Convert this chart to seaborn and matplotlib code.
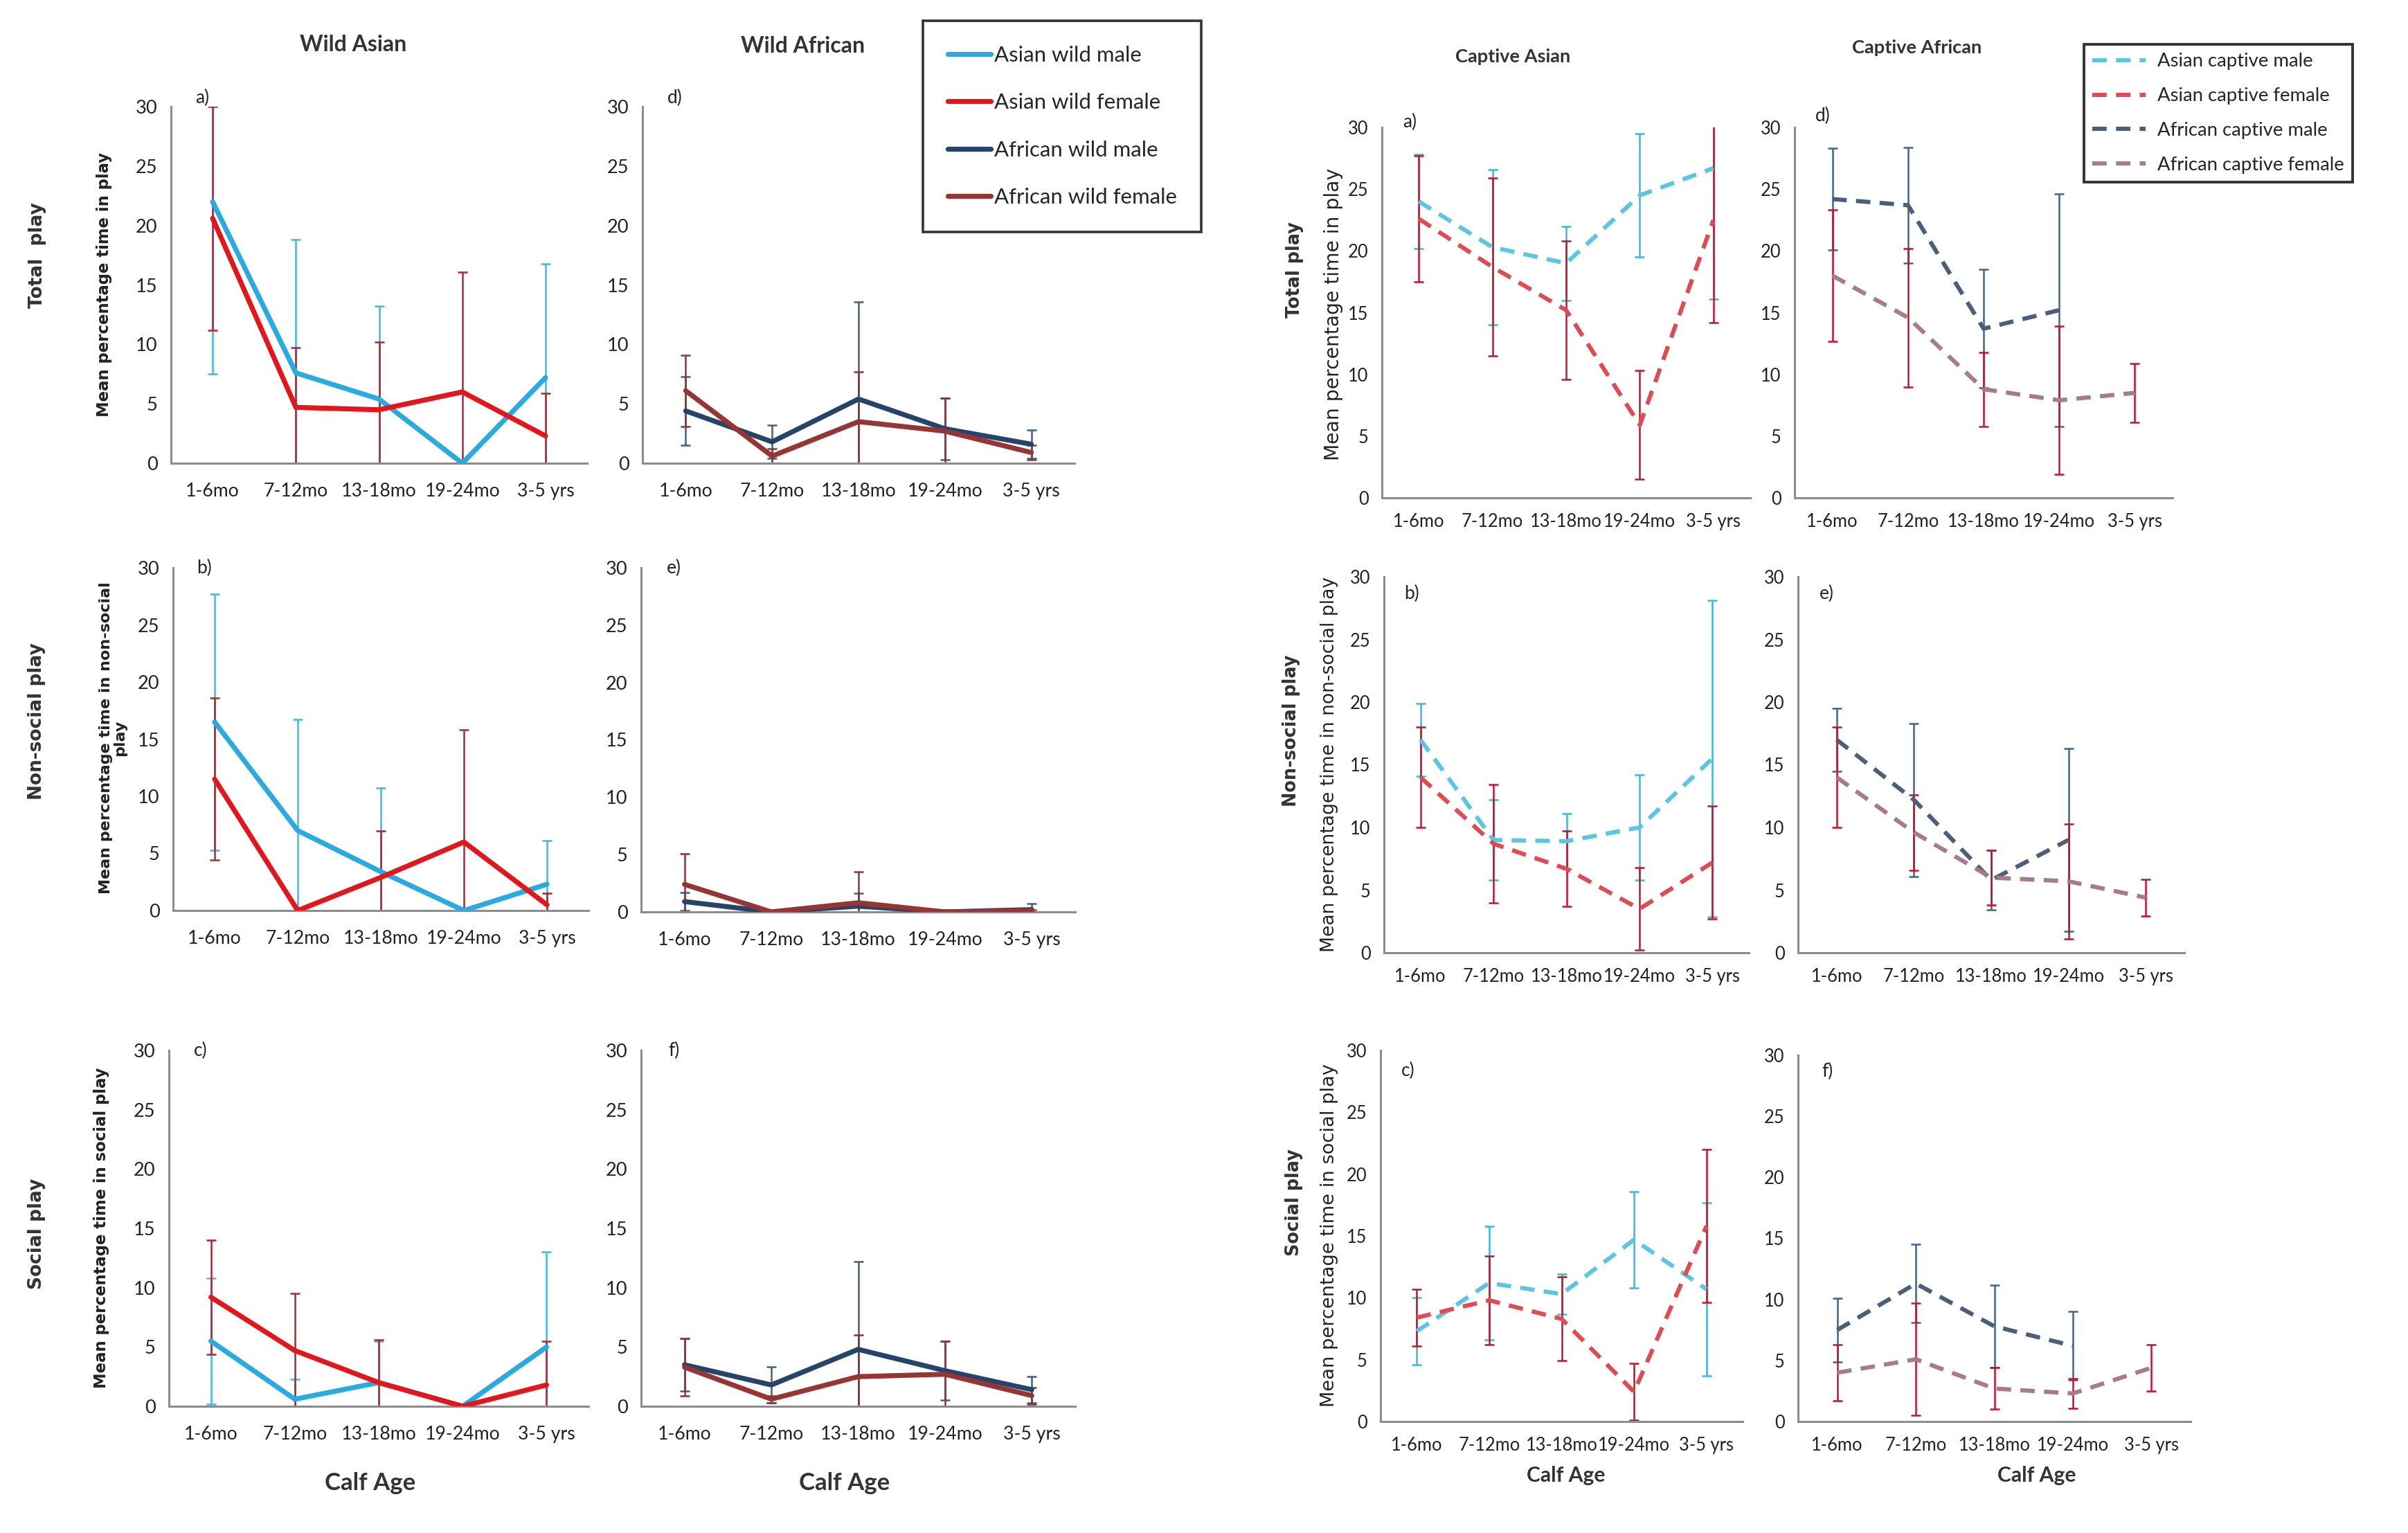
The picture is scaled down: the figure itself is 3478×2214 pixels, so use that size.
import numpy as np
import pandas as pd
import matplotlib
matplotlib.use("Agg")
import matplotlib.pyplot as plt
import seaborn as sns
from matplotlib.lines import Line2D

sns.set_theme(style="white")
plt.rcParams['font.family'] = ['Lato', 'DejaVu Sans']

nan = np.nan
ages = ["1-6mo", "7-12mo", "13-18mo", "19-24mo", "3-5 yrs"]

# ---- wild Asian (a, b, c) ----
wa_total_m = [22.0, 7.6, 5.4, 0.0, 7.2]
wa_total_m_err = [14.5, 11.2, 7.8, 0.0, 9.6]
wa_total_f = [20.6, 4.7, 4.5, 6.0, 2.3]
wa_total_f_err = [9.4, 5.0, 5.7, 10.1, 3.6]

wa_nonsoc_m = [16.5, 7.0, 3.4, 0.0, 2.3]
wa_nonsoc_m_err = [11.2, 9.7, 7.3, 0.0, 3.8]
wa_nonsoc_f = [11.5, 0.0, 2.9, 6.0, 0.5]
wa_nonsoc_f_err = [7.1, 0.0, 4.1, 9.8, 1.0]

wa_soc_m = [5.5, 0.6, 2.0, 0.0, 5.0]
wa_soc_m_err = [5.3, 1.7, 3.5, 0.0, 8.0]
wa_soc_f = [9.2, 4.7, 2.0, 0.0, 1.8]
wa_soc_f_err = [4.8, 4.8, 3.6, 0.0, 3.7]

# ---- wild African (d, e, f) ----
wf_total_m = [4.4, 1.8, 5.4, 2.9, 1.6]
wf_total_m_err = [2.9, 1.4, 8.2, 2.6, 1.2]
wf_total_f = [6.1, 0.6, 3.5, 2.7, 0.9]
wf_total_f_err = [3.0, 0.6, 4.2, 2.8, 0.6]

wf_nonsoc_m = [0.9, 0.0, 0.5, 0.0, 0.2]
wf_nonsoc_m_err = [0.8, 0.0, 1.1, 0.0, 0.5]
wf_nonsoc_f = [2.4, 0.0, 0.8, 0.0, 0.1]
wf_nonsoc_f_err = [2.7, 0.0, 2.7, 0.0, 0.1]

wf_soc_m = [3.5, 1.8, 4.8, 3.0, 1.4]
wf_soc_m_err = [2.2, 1.5, 7.4, 2.5, 1.1]
wf_soc_f = [3.3, 0.6, 2.5, 2.7, 0.9]
wf_soc_f_err = [2.4, 0.3, 3.5, 2.8, 0.7]

# ---- captive Asian (a, b, c) ----
ca_total_m = [24.0, 20.3, 19.0, 24.5, 26.7]
ca_total_m_err = [3.8, 6.3, 3.0, 5.0, 10.6]
ca_total_f = [22.6, 18.7, 15.2, 5.9, 22.5]
ca_total_f_err = [5.1, 7.2, 5.6, 4.4, 8.3]

ca_nonsoc_m = [17.0, 9.0, 8.9, 10.0, 15.5]
ca_nonsoc_m_err = [2.9, 3.2, 2.2, 4.2, 12.6]
ca_nonsoc_f = [14.0, 8.7, 6.7, 3.5, 7.2]
ca_nonsoc_f_err = [4.0, 4.7, 3.0, 3.3, 4.5]

ca_soc_m = [7.3, 11.2, 10.3, 14.7, 10.7]
ca_soc_m_err = [2.7, 4.6, 1.6, 3.9, 7.0]
ca_soc_f = [8.4, 9.8, 8.3, 2.4, 15.8]
ca_soc_f_err = [2.3, 3.6, 3.4, 2.3, 6.2]

# ---- captive African (d, e, f) ----
cf_total_m = [24.2, 23.7, 13.7, 15.2, nan]
cf_total_m_err = [4.1, 4.7, 4.8, 9.4, nan]
cf_total_f = [18.0, 14.6, 8.8, 7.9, 8.5]
cf_total_f_err = [5.3, 5.6, 3.0, 6.0, 2.4]

cf_nonsoc_m = [17.0, 12.2, 5.8, 9.0, nan]
cf_nonsoc_m_err = [2.5, 6.1, 2.4, 7.3, nan]
cf_nonsoc_f = [14.0, 9.6, 6.0, 5.7, 4.4]
cf_nonsoc_f_err = [4.0, 3.0, 2.2, 4.6, 1.45]

cf_soc_m = [7.5, 11.3, 7.8, 6.2, nan]
cf_soc_m_err = [2.6, 3.2, 3.4, 2.8, nan]
cf_soc_f = [4.0, 5.1, 2.7, 2.3, 4.4]
cf_soc_f_err = [2.3, 4.6, 1.7, 1.2, 1.9]

# colours (line, error bar)
C_ASIAN_M = ("#29abe2", "#3cb9e4")
C_ASIAN_F = ("#e3161c", "#b0262c")
C_AFR_M = ("#26436a", "#3e5f86")
C_AFR_F = ("#973535", "#8c3338")
CC_ASIAN_M = ("#5cc6e2", "#38b8e0")
CC_ASIAN_F = ("#e04a50", "#c4142a")
CC_AFR_M = ("#4b5f79", "#3f648f")
CC_AFR_F = ("#a77b8a", "#c4142a")
DASH = (0, (3.4, 2.2))

W, H = 3478, 2214
fig = plt.figure(figsize=(W / 200, H / 200), dpi=200)
fig.patch.set_facecolor("white")


def fx(px):
    return px / W


def fy(py):
    return 1 - py / H


def make_ax(x0, x1, ytop, ybot):
    return fig.add_axes([fx(x0), fy(ybot), fx(x1) - fx(x0), (ybot - ytop) / H])


def draw_panel(ax, series, captive, letter, letter_y, label_pad):
    pos = np.arange(len(ages))
    # error bars first, lines on top
    for mean, err, (lc, ec) in series:
        m = np.array(mean, dtype=float)
        e = np.array(err, dtype=float)
        keep = ~np.isnan(m) & (np.nan_to_num(e) > 0)
        ax.errorbar(pos[keep], m[keep], yerr=e[keep], fmt="none", ecolor=ec,
                    elinewidth=0.9, capsize=2.6, capthick=0.9, zorder=2)
    for mean, err, (lc, ec) in series:
        df = pd.DataFrame({"pos": pos, "mean": mean})
        if captive:
            sns.lineplot(data=df, x="pos", y="mean", ax=ax, color=lc, lw=2.2,
                         dashes=False, linestyle=DASH, zorder=3)
        else:
            sns.lineplot(data=df, x="pos", y="mean", ax=ax, color=lc, lw=2.6,
                         zorder=3)
    ax.set_xlim(-0.5, 4.5)
    ax.set_ylim(0, 30)
    ax.set_yticks(range(0, 31, 5))
    ax.set_xticks([0.5, 1.5, 2.5, 3.5])
    ax.set_xticklabels([])
    ax.set_xticks(pos, minor=True)
    ax.set_xticklabels(ages, minor=True)
    ax.tick_params(axis="x", which="major", length=4, width=1, color="#8c8c8c",
                   direction="out")
    ax.tick_params(axis="x", which="minor", length=0, pad=label_pad,
                   labelsize=9.2 if captive else 9.6, labelcolor="#222222")
    ax.tick_params(axis="y", length=4, width=1, color="#8c8c8c", direction="out",
                   pad=3, labelsize=9.2 if captive else 9.8, labelcolor="#222222")
    ax.set_xlabel("")
    ax.set_ylabel("")
    for s in ["top", "right"]:
        ax.spines[s].set_visible(False)
    for s in ["left", "bottom"]:
        ax.spines[s].set_color("#8c8c8c")
        ax.spines[s].set_linewidth(1.1)
    ax.set_facecolor("white")
    ax.text(0.075, letter_y, letter, transform=ax.transAxes, fontsize=9.5,
            ha="center", va="center", color="#222222")


# ---- wild figure ----
ax = make_ax(247, 848, 154, 669)
draw_panel(ax, [(wa_total_m, wa_total_m_err, C_ASIAN_M),
                (wa_total_f, wa_total_f_err, C_ASIAN_F)], False, "a)", 1.025, 10)
ax = make_ax(928, 1552, 154, 669)
draw_panel(ax, [(wf_total_m, wf_total_m_err, C_AFR_M),
                (wf_total_f, wf_total_f_err, C_AFR_F)], False, "d)", 1.025, 10)
ax = make_ax(250, 850, 820, 1315)
draw_panel(ax, [(wa_nonsoc_m, wa_nonsoc_m_err, C_ASIAN_M),
                (wa_nonsoc_f, wa_nonsoc_f_err, C_ASIAN_F)], False, "b)", 1.0, 10)
ax = make_ax(926, 1553, 820, 1317)
draw_panel(ax, [(wf_nonsoc_m, wf_nonsoc_m_err, C_AFR_M),
                (wf_nonsoc_f, wf_nonsoc_f_err, C_AFR_F)], False, "e)", 1.0, 10)
ax = make_ax(244, 850, 1517, 2031)
draw_panel(ax, [(wa_soc_m, wa_soc_m_err, C_ASIAN_M),
                (wa_soc_f, wa_soc_f_err, C_ASIAN_F)], False, "c)", 1.0, 10)
ax = make_ax(926, 1553, 1517, 2031)
draw_panel(ax, [(wf_soc_m, wf_soc_m_err, C_AFR_M),
                (wf_soc_f, wf_soc_f_err, C_AFR_F)], False, "f)", 1.0, 10)

# ---- captive figure ----
ax = make_ax(1996, 2528, 184, 719)
draw_panel(ax, [(ca_total_m, ca_total_m_err, CC_ASIAN_M),
                (ca_total_f, ca_total_f_err, CC_ASIAN_F)], True, "a)", 1.015, 8)
ax = make_ax(2592, 3138, 184, 719)
draw_panel(ax, [(cf_total_m, cf_total_m_err, CC_AFR_M),
                (cf_total_f, cf_total_f_err, CC_AFR_F)], True, "d)", 1.03, 8)
ax = make_ax(1999, 2526, 833, 1376)
draw_panel(ax, [(ca_nonsoc_m, ca_nonsoc_m_err, CC_ASIAN_M),
                (ca_nonsoc_f, ca_nonsoc_f_err, CC_ASIAN_F)], True, "b)", 0.955, 8)
ax = make_ax(2597, 3155, 833, 1376)
draw_panel(ax, [(cf_nonsoc_m, cf_nonsoc_m_err, CC_AFR_M),
                (cf_nonsoc_f, cf_nonsoc_f_err, CC_AFR_F)], True, "e)", 0.955, 8)
ax = make_ax(1994, 2517, 1517, 2053)
draw_panel(ax, [(ca_soc_m, ca_soc_m_err, CC_ASIAN_M),
                (ca_soc_f, ca_soc_f_err, CC_ASIAN_F)], True, "c)", 0.945, 8)
ax = make_ax(2597, 3164, 1524, 2053)
draw_panel(ax, [(cf_soc_m, cf_soc_m_err, CC_AFR_M),
                (cf_soc_f, cf_soc_f_err, CC_AFR_F)], True, "f)", 0.955, 8)

# ---- titles, labels ----
tcol = "#333333"
fig.text(fx(510), fy(65), "Wild Asian", fontsize=11.5, fontweight="bold", color=tcol,
         ha="center", va="center")
fig.text(fx(1160), fy(67), "Wild African", fontsize=11.5, fontweight="bold", color=tcol,
         ha="center", va="center")
fig.text(fx(2185), fy(82), "Captive Asian", fontsize=9.8, fontweight="bold", color=tcol,
         ha="center", va="center")
fig.text(fx(2769), fy(69), "Captive African", fontsize=9.8, fontweight="bold", color=tcol,
         ha="center", va="center")

rowlab = dict(family="DejaVu Sans", fontweight="bold", rotation=90, ha="center",
              va="center", color="#333333")
fig.text(fx(54), fy(369), "Total  play", fontsize=9.5, **rowlab)
fig.text(fx(53), fy(1042), "Non-social play", fontsize=9.5, **rowlab)
fig.text(fx(53), fy(1782), "Social play", fontsize=9.5, **rowlab)
fig.text(fx(1870), fy(390), "Total play", fontsize=9.2, **rowlab)
fig.text(fx(1865), fy(1055), "Non-social play", fontsize=9.2, **rowlab)
fig.text(fx(1869), fy(1737), "Social play", fontsize=9.2, **rowlab)

ylab = dict(family="DejaVu Sans", fontweight="bold", rotation=90, ha="center",
            va="center", color="#222222")
fig.text(fx(150), fy(411), "Mean percentage time in play", fontsize=8.2, **ylab)
fig.text(fx(163), fy(1066), "Mean percentage time in non-social\nplay", fontsize=8.0,
         multialignment="center", linespacing=1.0, **ylab)
fig.text(fx(147), fy(1773), "Mean percentage time in social play", fontsize=8.2, **ylab)
ylab2 = dict(ylab)
ylab2["fontweight"] = "normal"
fig.text(fx(1926), fy(454), "Mean percentage time in play", fontsize=10.2, **ylab2)
fig.text(fx(1920), fy(1104), "Mean percentage time in non-social play", fontsize=9.6, **ylab2)
fig.text(fx(1920), fy(1784), "Mean percentage time in social play", fontsize=9.8, **ylab2)

fig.text(fx(535), fy(2142), "Calf Age", fontsize=12.5, fontweight="bold", color=tcol,
         ha="center", va="center")
fig.text(fx(1220), fy(2142), "Calf Age", fontsize=12.5, fontweight="bold", color=tcol,
         ha="center", va="center")
fig.text(fx(2262), fy(2131), "Calf Age", fontsize=10.8, fontweight="bold", color=tcol,
         ha="center", va="center")
fig.text(fx(2942), fy(2131), "Calf Age", fontsize=10.8, fontweight="bold", color=tcol,
         ha="center", va="center")

# ---- legends ----
wild_handles = [Line2D([], [], color=C_ASIAN_M[0], lw=2.6),
                Line2D([], [], color=C_ASIAN_F[0], lw=2.6),
                Line2D([], [], color=C_AFR_M[0], lw=2.6),
                Line2D([], [], color=C_AFR_F[0], lw=2.6)]
wild_labels = ["Asian wild male", "Asian wild female", "African wild male",
               "African wild female"]
leg = fig.legend(wild_handles, wild_labels, loc="upper left",
                 bbox_to_anchor=(fx(1333), fy(30)), fontsize=11.2, frameon=True,
                 fancybox=False, edgecolor="black", handlelength=2.0,
                 handletextpad=0.15, labelspacing=1.3, borderpad=1.15,
                 borderaxespad=0)
leg.get_frame().set_linewidth(1.3)

cap_handles = [Line2D([], [], color=c[0], lw=2.2, ls=DASH)
               for c in (CC_ASIAN_M, CC_ASIAN_F, CC_AFR_M, CC_AFR_F)]
cap_labels = ["Asian captive male", "Asian captive female", "African captive male",
              "African captive female"]
leg2 = fig.legend(cap_handles, cap_labels, loc="upper left",
                  bbox_to_anchor=(fx(3010), fy(64)), fontsize=9.9, frameon=True,
                  fancybox=False, edgecolor="black", handlelength=2.8,
                  handletextpad=0.6, labelspacing=0.9, borderpad=0.45,
                  borderaxespad=0)
leg2.get_frame().set_linewidth(1.4)

fig.savefig("out.png", dpi=200, facecolor="white")
